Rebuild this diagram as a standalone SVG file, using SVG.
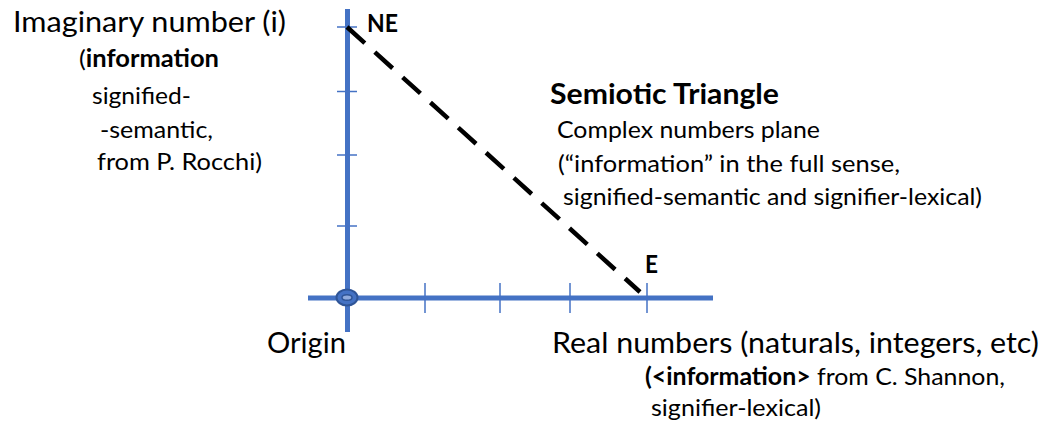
<svg xmlns="http://www.w3.org/2000/svg" width="1051" height="428" viewBox="0 0 1051 428">
<style>
  .axis{stroke:#4472C4;stroke-width:5;fill:none}
  .tick{stroke:#4472C4;stroke-width:1.5;fill:none}
  .big{font-family:Lato,"Liberation Sans",sans-serif;font-size:29px;fill:#000}
  .small{font-family:Lato,"Liberation Sans",sans-serif;font-size:24px;fill:#000}
  .b{font-weight:bold}
  .dash{stroke:#000;stroke-width:4.5;stroke-dasharray:24 13.5;fill:none}
</style>
<rect width="1051" height="428" fill="#fff"/>
<g id="axes">
  <line class="axis" x1="347.5" y1="9" x2="347.5" y2="332"/>
  <line class="axis" x1="308" y1="298" x2="713" y2="298"/>
  <line class="tick" x1="337" y1="27" x2="357" y2="27"/>
  <line class="tick" x1="337" y1="91.5" x2="357" y2="91.5"/>
  <line class="tick" x1="337" y1="155" x2="357" y2="155"/>
  <line class="tick" x1="337" y1="226" x2="357" y2="226"/>
  <line class="tick" x1="425" y1="283" x2="425" y2="313"/>
  <line class="tick" x1="500" y1="283" x2="500" y2="313"/>
  <line class="tick" x1="570" y1="283" x2="570" y2="313"/>
  <line class="tick" x1="647" y1="283" x2="647" y2="313"/>
</g>
<g id="origin-marker">
  <ellipse cx="347" cy="297.5" rx="10.5" ry="8" fill="#4472C4" stroke="#2F5597" stroke-width="2"/>
  <ellipse cx="347" cy="297.5" rx="5" ry="2.8" fill="#8FAADC" stroke="#2F5597" stroke-width="1.5"/>
</g>
<g id="connectors">
  <line class="dash" x1="347" y1="27" x2="640" y2="292"/>
</g>
<g id="imaginary">
  <text class="big" x="13" y="32" textLength="273" lengthAdjust="spacingAndGlyphs">Imaginary number (i)</text>
  <text class="small" x="79" y="67" textLength="140" lengthAdjust="spacingAndGlyphs">(<tspan class="b">information</tspan></text>
  <text class="small" x="92" y="104" textLength="99" lengthAdjust="spacingAndGlyphs">signified-</text>
  <text class="small" x="100" y="138" textLength="113" lengthAdjust="spacingAndGlyphs">-semantic,</text>
  <text class="small" x="97" y="170" textLength="165" lengthAdjust="spacingAndGlyphs">from P. Rocchi)</text>
</g>
<g id="NE">
  <text class="small b" x="367" y="32" font-size="24" textLength="31" lengthAdjust="spacingAndGlyphs">NE</text>
</g>
<g id="E">
  <text class="small b" x="645" y="273" textLength="13" lengthAdjust="spacingAndGlyphs">E</text>
</g>
<g id="semiotic">
  <text class="big b" x="550" y="104" textLength="229" lengthAdjust="spacingAndGlyphs">Semiotic Triangle</text>
  <text class="small" x="557" y="138" textLength="263" lengthAdjust="spacingAndGlyphs">Complex numbers plane</text>
  <text class="small" x="558" y="172" textLength="342" lengthAdjust="spacingAndGlyphs">(“information” in the full sense,</text>
  <text class="small" x="563" y="205" textLength="419" lengthAdjust="spacingAndGlyphs">signified-semantic and signifier-lexical)</text>
</g>
<g id="origin">
  <text class="big" x="267" y="353" textLength="79" lengthAdjust="spacingAndGlyphs">Origin</text>
</g>
<g id="real">
  <text class="big" x="552" y="353" textLength="487" lengthAdjust="spacingAndGlyphs">Real numbers (naturals, integers, etc)</text>
  <text class="small" x="645" y="385" textLength="360" lengthAdjust="spacingAndGlyphs"><tspan class="b">(&lt;information&gt;</tspan> from C. Shannon,</text>
  <text class="small" x="651" y="416" textLength="170" lengthAdjust="spacingAndGlyphs">signifier-lexical)</text>
</g>
</svg>
